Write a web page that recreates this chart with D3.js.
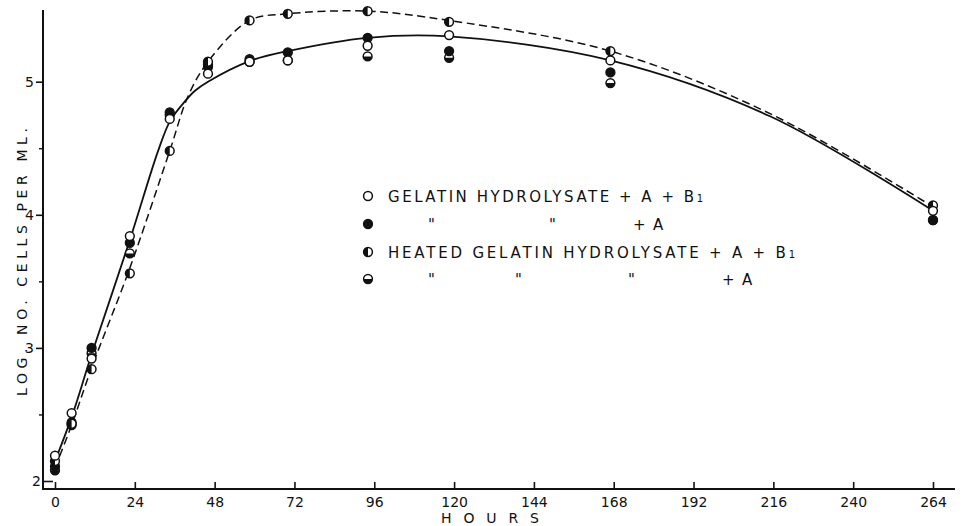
<!DOCTYPE html>
<html>
<head>
<meta charset="utf-8">
<script src="https://cdn.jsdelivr.net/npm/d3@7/dist/d3.min.js"></script>
<style>
  html, body { margin: 0; padding: 0; background: #fff; }
  svg { display: block; }
  text { font-family: "DejaVu Sans", sans-serif; fill: #111; }
</style>
</head>
<body>
<svg id="chart" width="968" height="526"></svg>
<script>
// Sampling times (hours) and log viable counts for each medium
const hours = [0, 5, 11, 22.5, 34.5, 46, 58.5, 70, 94, 118.5, 167, 264];
const gelatinAB1 = [2.19, 2.51, 2.92, 3.84, 4.72, 5.06, 5.15, 5.16, 5.27, 5.35, 5.16, 4.03];
const gelatinA   = [2.11, 2.44, 3.00, 3.79, 4.77, 5.11, 5.17, 5.22, 5.33, 5.23, 5.07, 3.96];
const heatedAB1  = [2.15, 2.43, 2.84, 3.56, 4.48, 5.15, 5.46, 5.51, 5.53, 5.45, 5.23, 4.07];
const heatedA    = [2.08, 2.42, 2.96, 3.71, 4.75, 5.13, 5.15, 5.16, 5.19, 5.18, 4.99, 3.96];

// Hand-fitted growth curves (solid: gelatin hydrolysate, dashed: heated)
const fitGelatinHours = [0, 5, 11, 22.5, 31, 34.5, 38, 42, 46, 58.5, 70, 94, 118.5, 167, 215, 264];
const fitGelatin      = [2.15, 2.48, 2.95, 3.81, 4.48, 4.70, 4.82, 4.93, 5.00, 5.155, 5.23, 5.33, 5.34, 5.16, 4.74, 4.03];
const fitHeatedHours  = [0, 5, 11, 22.5, 34.5, 40, 46, 58.5, 70, 94, 118.5, 167, 215, 264];
const fitHeated       = [2.10, 2.42, 2.85, 3.60, 4.48, 4.89, 5.15, 5.46, 5.51, 5.53, 5.46, 5.23, 4.76, 4.06];

// Axis ticks
const xTicks = [0, 24, 48, 72, 96, 120, 144, 168, 192, 216, 240, 264];
const yTicks = [2, 3, 4, 5];
const yMinorTicks = [2.5, 3.5, 4.5];

const svg = d3.select("#chart");
svg.append("rect").attr("width", 968).attr("height", 526).attr("fill", "#fff");

const x = d3.scaleLinear().domain([0, 264]).range([55, 933]);
const y = d3.scaleLinear().domain([2, 5]).range([481, 81.7]);

const axisY = 489;   // baseline of the hours axis
const axisX = 43;    // position of the log-count axis

// ---- axes ----
svg.append("line")
  .attr("x1", axisX).attr("x2", x(270.6))
  .attr("y1", axisY).attr("y2", axisY)
  .attr("stroke", "#111").attr("stroke-width", 2);
svg.append("line")
  .attr("x1", axisX).attr("x2", axisX)
  .attr("y1", 10).attr("y2", axisY + 1)
  .attr("stroke", "#111").attr("stroke-width", 2);

const gx = svg.append("g").attr("transform", `translate(0,${axisY})`)
  .call(d3.axisBottom(x).tickValues(xTicks).tickSizeInner(-7).tickSizeOuter(0).tickPadding(8));
gx.select(".domain").remove();
gx.selectAll(".tick line").attr("stroke", "#111").attr("stroke-width", 1.6);
gx.selectAll(".tick text").attr("font-size", 14).attr("fill", "#111")
  .style("font-family", "DejaVu Sans, sans-serif");

const gy = svg.append("g").attr("transform", `translate(${axisX},0)`)
  .call(d3.axisLeft(y).tickValues(yTicks).tickSizeInner(7).tickSizeOuter(0).tickPadding(2).tickFormat(d3.format("d")));
gy.select(".domain").remove();
gy.selectAll(".tick line").attr("stroke", "#111").attr("stroke-width", 1.6);
gy.selectAll(".tick text").attr("font-size", 14).attr("fill", "#111")
  .style("font-family", "DejaVu Sans, sans-serif");
// the lowest tick turns inward, its label sits against the axis
gy.selectAll(".tick").filter(d => d === 2).select("line").attr("x2", 10);
gy.selectAll(".tick").filter(d => d === 2).select("text").attr("x", -2);

const gyMinor = svg.append("g").attr("transform", `translate(${axisX},0)`)
  .call(d3.axisLeft(y).tickValues(yMinorTicks).tickSizeInner(4).tickSizeOuter(0).tickFormat(""));
gyMinor.select(".domain").remove();
gyMinor.selectAll(".tick line").attr("stroke", "#111").attr("stroke-width", 1.4);

// ---- axis titles ----
svg.append("text")
  .attr("transform", "translate(27,262) rotate(-90)")
  .attr("text-anchor", "middle")
  .attr("font-size", 14)
  .attr("textLength", 268).attr("lengthAdjust", "spacing")
  .text("LOG. NO. CELLS PER ML.");

svg.append("text")
  .attr("x", 490).attr("y", 523)
  .attr("text-anchor", "middle")
  .attr("font-size", 14)
  .attr("textLength", 98).attr("lengthAdjust", "spacing")
  .text("HOURS");

// ---- fitted curves ----
const fitLine = d3.line().x(d => x(d[0])).y(d => y(d[1])).curve(d3.curveCatmullRom.alpha(0.5));
svg.append("path")
  .datum(d3.zip(fitGelatinHours, fitGelatin))
  .attr("d", fitLine)
  .attr("fill", "none").attr("stroke", "#111").attr("stroke-width", 1.8);
svg.append("path")
  .datum(d3.zip(fitHeatedHours, fitHeated))
  .attr("d", fitLine)
  .attr("fill", "none").attr("stroke", "#111").attr("stroke-width", 1.5)
  .attr("stroke-dasharray", "8,4.5");

// ---- markers ----
const R = 4.4;
function drawMarker(sel, kind) {
  sel.append("circle").attr("r", R)
    .attr("fill", kind === "filled" ? "#111" : "#fff")
    .attr("stroke", "#111").attr("stroke-width", 1.5);
  if (kind === "left") {
    sel.append("path").attr("d", `M0,${-R}A${R},${R} 0 0 0 0,${R}Z`).attr("fill", "#111");
  } else if (kind === "bottom") {
    sel.append("path").attr("d", `M${-R},0A${R},${R} 0 0 0 ${R},0Z`).attr("fill", "#111");
  }
}

const series = [
  { values: heatedA,    kind: "bottom" },
  { values: gelatinA,   kind: "filled" },
  { values: heatedAB1,  kind: "left" },
  { values: gelatinAB1, kind: "open" }
];

series.forEach(s => {
  svg.append("g").selectAll("g")
    .data(d3.zip(hours, s.values))
    .join("g")
    .attr("transform", d => `translate(${x(d[0])},${y(d[1])})`)
    .each(function () { drawMarker(d3.select(this), s.kind); });
});

// ---- legend ----
const legend = svg.append("g");
const rows = [
  { kind: "open",   y: 196 },
  { kind: "filled", y: 224 },
  { kind: "left",   y: 252 },
  { kind: "bottom", y: 279 }
];
rows.forEach(r => {
  const g = legend.append("g").attr("transform", `translate(368,${r.y})`);
  drawMarker(g, r.kind);
});

function b1(t) {
  t.append("tspan").text("B");
  t.append("tspan").attr("font-size", 10).text("1");
}

const t1 = legend.append("text").attr("x", 388).attr("y", 196 + 5.5).attr("font-size", 15)
  .attr("textLength", 315).attr("lengthAdjust", "spacing");
t1.append("tspan").text("GELATIN  HYDROLYSATE + A + ");
b1(t1);

const t2 = legend.append("text").attr("y", 224 + 5.5).attr("font-size", 15);
t2.append("tspan").attr("x", 428).text("\"");
t2.append("tspan").attr("x", 549).text("\"");
t2.append("tspan").attr("x", 633).text("+");
t2.append("tspan").attr("x", 653).text("A");

const t3 = legend.append("text").attr("x", 388).attr("y", 252 + 5.5).attr("font-size", 15)
  .attr("textLength", 407).attr("lengthAdjust", "spacing");
t3.append("tspan").text("HEATED  GELATIN  HYDROLYSATE  + A + ");
b1(t3);

const t4 = legend.append("text").attr("y", 279 + 5.5).attr("font-size", 15);
t4.append("tspan").attr("x", 428).text("\"");
t4.append("tspan").attr("x", 515).text("\"");
t4.append("tspan").attr("x", 628).text("\"");
t4.append("tspan").attr("x", 722).text("+");
t4.append("tspan").attr("x", 742).text("A");
</script>
</body>
</html>
